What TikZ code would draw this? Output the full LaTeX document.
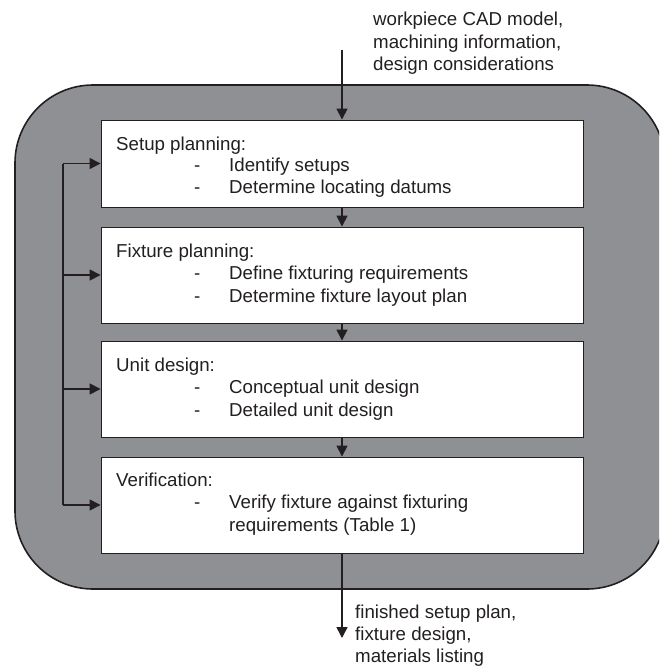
\documentclass[tikz,border=0pt]{standalone}
\usepackage{fontspec}
\setmainfont{Liberation Sans}
\usetikzlibrary{arrows.meta}
\definecolor{panel}{RGB}{143,144,148}
\definecolor{ink}{RGB}{35,31,32}
\begin{document}
\begin{tikzpicture}[x=1pt,y=-1pt,
  txt/.style={font=\fontsize{18.7}{22.5}\selectfont, text=ink, inner sep=0pt, anchor=base west},
  stage/.style={draw=ink, line width=0.9pt, fill=white, minimum width=482pt, inner sep=0pt},
  flow/.style={draw=ink, line width=1.6pt, -{Triangle[length=11pt,width=11pt]}},
  feed/.style={draw=ink, line width=1.6pt}]
\useasboundingbox (0,0) rectangle (659,667);
\begin{scope}
  \clip (0,0) rectangle (659,667);
  \draw[fill=panel, draw=ink, line width=1.6pt, rounded corners=78pt] (15,85) rectangle (665,589);
\end{scope}

% stage boxes
\node[stage, minimum height=87pt] (b1) at (342,163.5) {};
\node[stage, minimum height=96pt] (b2) at (342,275) {};
\node[stage, minimum height=96pt] (b3) at (342,389) {};
\node[stage, minimum height=96pt] (b4) at (342,505) {};

% texts
\node[txt] (in1) at (373,25) {workpiece CAD model,};
\node[txt] (in2) at (373,48) {machining information,};
\node[txt] (in3) at (373,70) {design considerations};

\node[txt] (h1) at (116,150) {Setup planning:};
\node[txt] (d11) at (194,171) {-};
\node[txt] (t11) at (229,171) {Identify setups};
\node[txt] (d12) at (194,193.5) {-};
\node[txt] (t12) at (229,193.5) {Determine locating datums};

\node[txt] (h2) at (116,257) {Fixture planning:};
\node[txt] (d21) at (194,279.5) {-};
\node[txt] (t21) at (229,279.5) {Define fixturing requirements};
\node[txt] (d22) at (194,302) {-};
\node[txt] (t22) at (229,302) {Determine fixture layout plan};

\node[txt] (h3) at (116,371) {Unit design:};
\node[txt] (d31) at (194,393.5) {-};
\node[txt] (t31) at (229,393.5) {Conceptual unit design};
\node[txt] (d32) at (194,416) {-};
\node[txt] (t32) at (229,416) {Detailed unit design};

\node[txt] (h4) at (116,486) {Verification:};
\node[txt] (d41) at (194,508.5) {-};
\node[txt] (t41) at (229,508.5) {Verify fixture against fixturing};
\node[txt] (t42) at (229,531) {requirements (Table 1)};

\node[txt] (o1) at (355,618) {finished setup plan,};
\node[txt] (o2) at (355,640) {fixture design,};
\node[txt] (o3) at (355,662) {materials listing};

% main flow
\coordinate (src) at (342,50);
\coordinate (sink) at (342,638);
\draw[flow] (src) -- (b1.north);
\draw[flow] (b1.south) -- (b2.north);
\draw[flow] (b2.south) -- (b3.north);
\draw[flow] (b3.south) -- (b4.north);
\draw[flow] (b4.south) -- (sink);

% feedback
\coordinate (f1) at (63,163.5);
\coordinate (f2) at (63,275);
\coordinate (f3) at (63,389);
\coordinate (f4) at (63,505);
\draw[feed] (f1) -- (f4);
\draw[flow] (f1) -- (b1.west);
\draw[flow] (f2) -- (b2.west);
\draw[flow] (f3) -- (b3.west);
\draw[flow] (f4) -- (b4.west);
\end{tikzpicture}
\end{document}
